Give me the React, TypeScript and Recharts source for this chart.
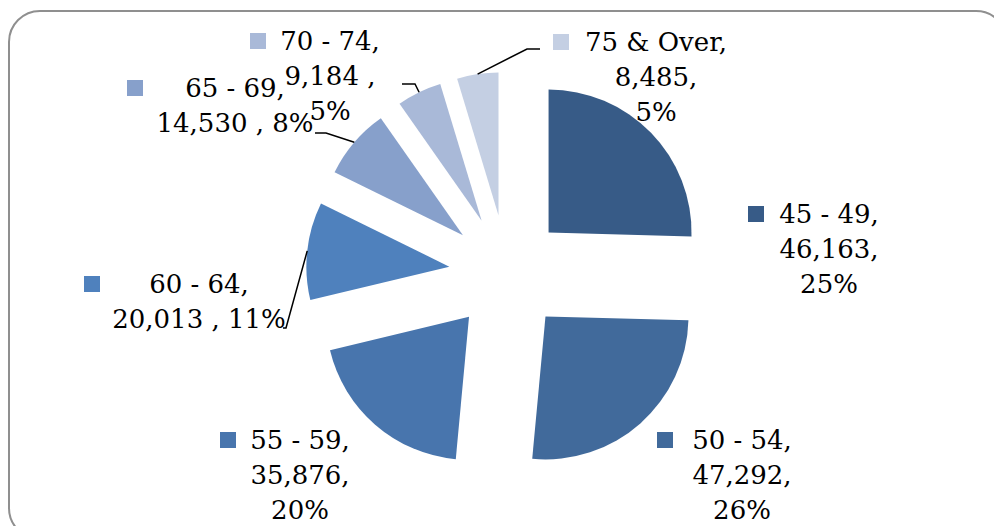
import React from 'react';
import { PieChart, Pie, Cell, Sector } from 'recharts';

const ageGroups = ['45 - 49', '50 - 54', '55 - 59', '60 - 64', '65 - 69', '70 - 74', '75 & Over'];
const population = [46163, 47292, 35876, 20013, 14530, 9184, 8485];
const sliceColors = ['#375B87', '#416A9B', '#4875AD', '#4F81BD', '#87A0CB', '#A9B9D8', '#C4CFE3'];

const data = ageGroups.map((name, i) => ({ name, value: population[i] }));

// exploded slices: every sector pushed out along its mid angle
const EXPLODE = 58;
const RAD = Math.PI / 180;

// label boxes, as Excel placed them (x = centre of text, y = first baseline, sq = key square left)
const labelLayout = [
  { x: 829, y: 223, sq: 748, lines: 3, pad: false },
  { x: 742, y: 449, sq: 657, lines: 3, pad: false },
  { x: 300, y: 449, sq: 220, lines: 3, pad: false },
  { x: 199, y: 293, sq: 84, lines: 2, pad: true },
  { x: 235, y: 97, sq: 127, lines: 2, pad: true },
  { x: 330, y: 50, sq: 250, lines: 3, pad: true },
  { x: 656, y: 51, sq: 553, lines: 3, pad: false },
];

// leader line bends / ends for the small slices
const leaders: Record<number, number[][]> = {
  3: [[286, 328], [283, 328]],
  4: [[326, 133], [315, 133]],
  5: [[415, 84], [402, 84]],
  6: [[527, 49], [540, 49]],
};

const fmt = (v: number) => v.toLocaleString('en-US');

const ExplodedSector = (props: any) => {
  const { cx, cy, innerRadius, outerRadius, startAngle, endAngle, fill } = props;
  const mid = (startAngle + endAngle) / 2;
  return (
    <Sector
      cx={cx + EXPLODE * Math.cos(mid * RAD)}
      cy={cy - EXPLODE * Math.sin(mid * RAD)}
      innerRadius={innerRadius}
      outerRadius={outerRadius}
      startAngle={startAngle}
      endAngle={endAngle}
      fill={fill}
      stroke="none"
    />
  );
};

const renderLabel = (props: any) => {
  const { cx, cy, midAngle, outerRadius, index, name, value, percent } = props;
  const l = labelLayout[index];
  const pct = `${Math.round(percent * 100)}%`;
  const sep = l.pad ? ' ,' : ',';
  const lines =
    l.lines === 3
      ? [`${name},`, `${fmt(value)}${sep}`, pct]
      : [`${name},`, `${fmt(value)}${sep} ${pct}`];
  const leader = leaders[index];
  let path = null;
  if (leader) {
    const ex = cx + EXPLODE * Math.cos(midAngle * RAD);
    const ey = cy - EXPLODE * Math.sin(midAngle * RAD);
    const sx = ex + outerRadius * Math.cos(midAngle * RAD);
    const sy = ey - outerRadius * Math.sin(midAngle * RAD);
    const d = `M${sx},${sy}` + leader.map((p) => `L${p[0]},${p[1]}`).join('');
    path = <path d={d} stroke="#000" strokeWidth={1.5} fill="none" />;
  }
  return (
    <g key={`lab-${index}`}>
      {path}
      <rect x={l.sq} y={l.y - 17} width={16} height={16} fill={sliceColors[index]} />
      {lines.map((t, j) => (
        <text
          key={j}
          x={l.x}
          y={l.y + j * 35}
          textAnchor="middle"
          fontFamily="'DejaVu Serif', serif"
          fontSize={26}
          fill="#000"
        >
          {t}
        </text>
      ))}
    </g>
  );
};

export default function App() {
  return (
    <div
      style={{
        position: 'absolute',
        left: 0,
        top: 0,
        width: 994,
        height: 526,
        overflow: 'hidden',
        background: '#fff',
      }}
    >
      <div
        style={{
          position: 'absolute',
          left: 8,
          top: 10,
          width: 1000,
          height: 530,
          border: '2px solid #8f8f8f',
          borderRadius: 32,
          boxSizing: 'border-box',
        }}
      />
      <div style={{ position: 'absolute', left: 0, top: 0 }}>
        <PieChart width={994} height={526} margin={{ top: 0, right: 0, bottom: 0, left: 0 }}>
          <Pie
            data={data}
            dataKey="value"
            nameKey="name"
            cx={507}
            cy={273}
            outerRadius={143}
            startAngle={90}
            endAngle={-270}
            stroke="none"
            shape={ExplodedSector}
            label={renderLabel}
            labelLine={false}
            isAnimationActive={false}
          >
            {data.map((d, i) => (
              <Cell key={d.name} fill={sliceColors[i]} />
            ))}
          </Pie>
        </PieChart>
      </div>
    </div>
  );
}
